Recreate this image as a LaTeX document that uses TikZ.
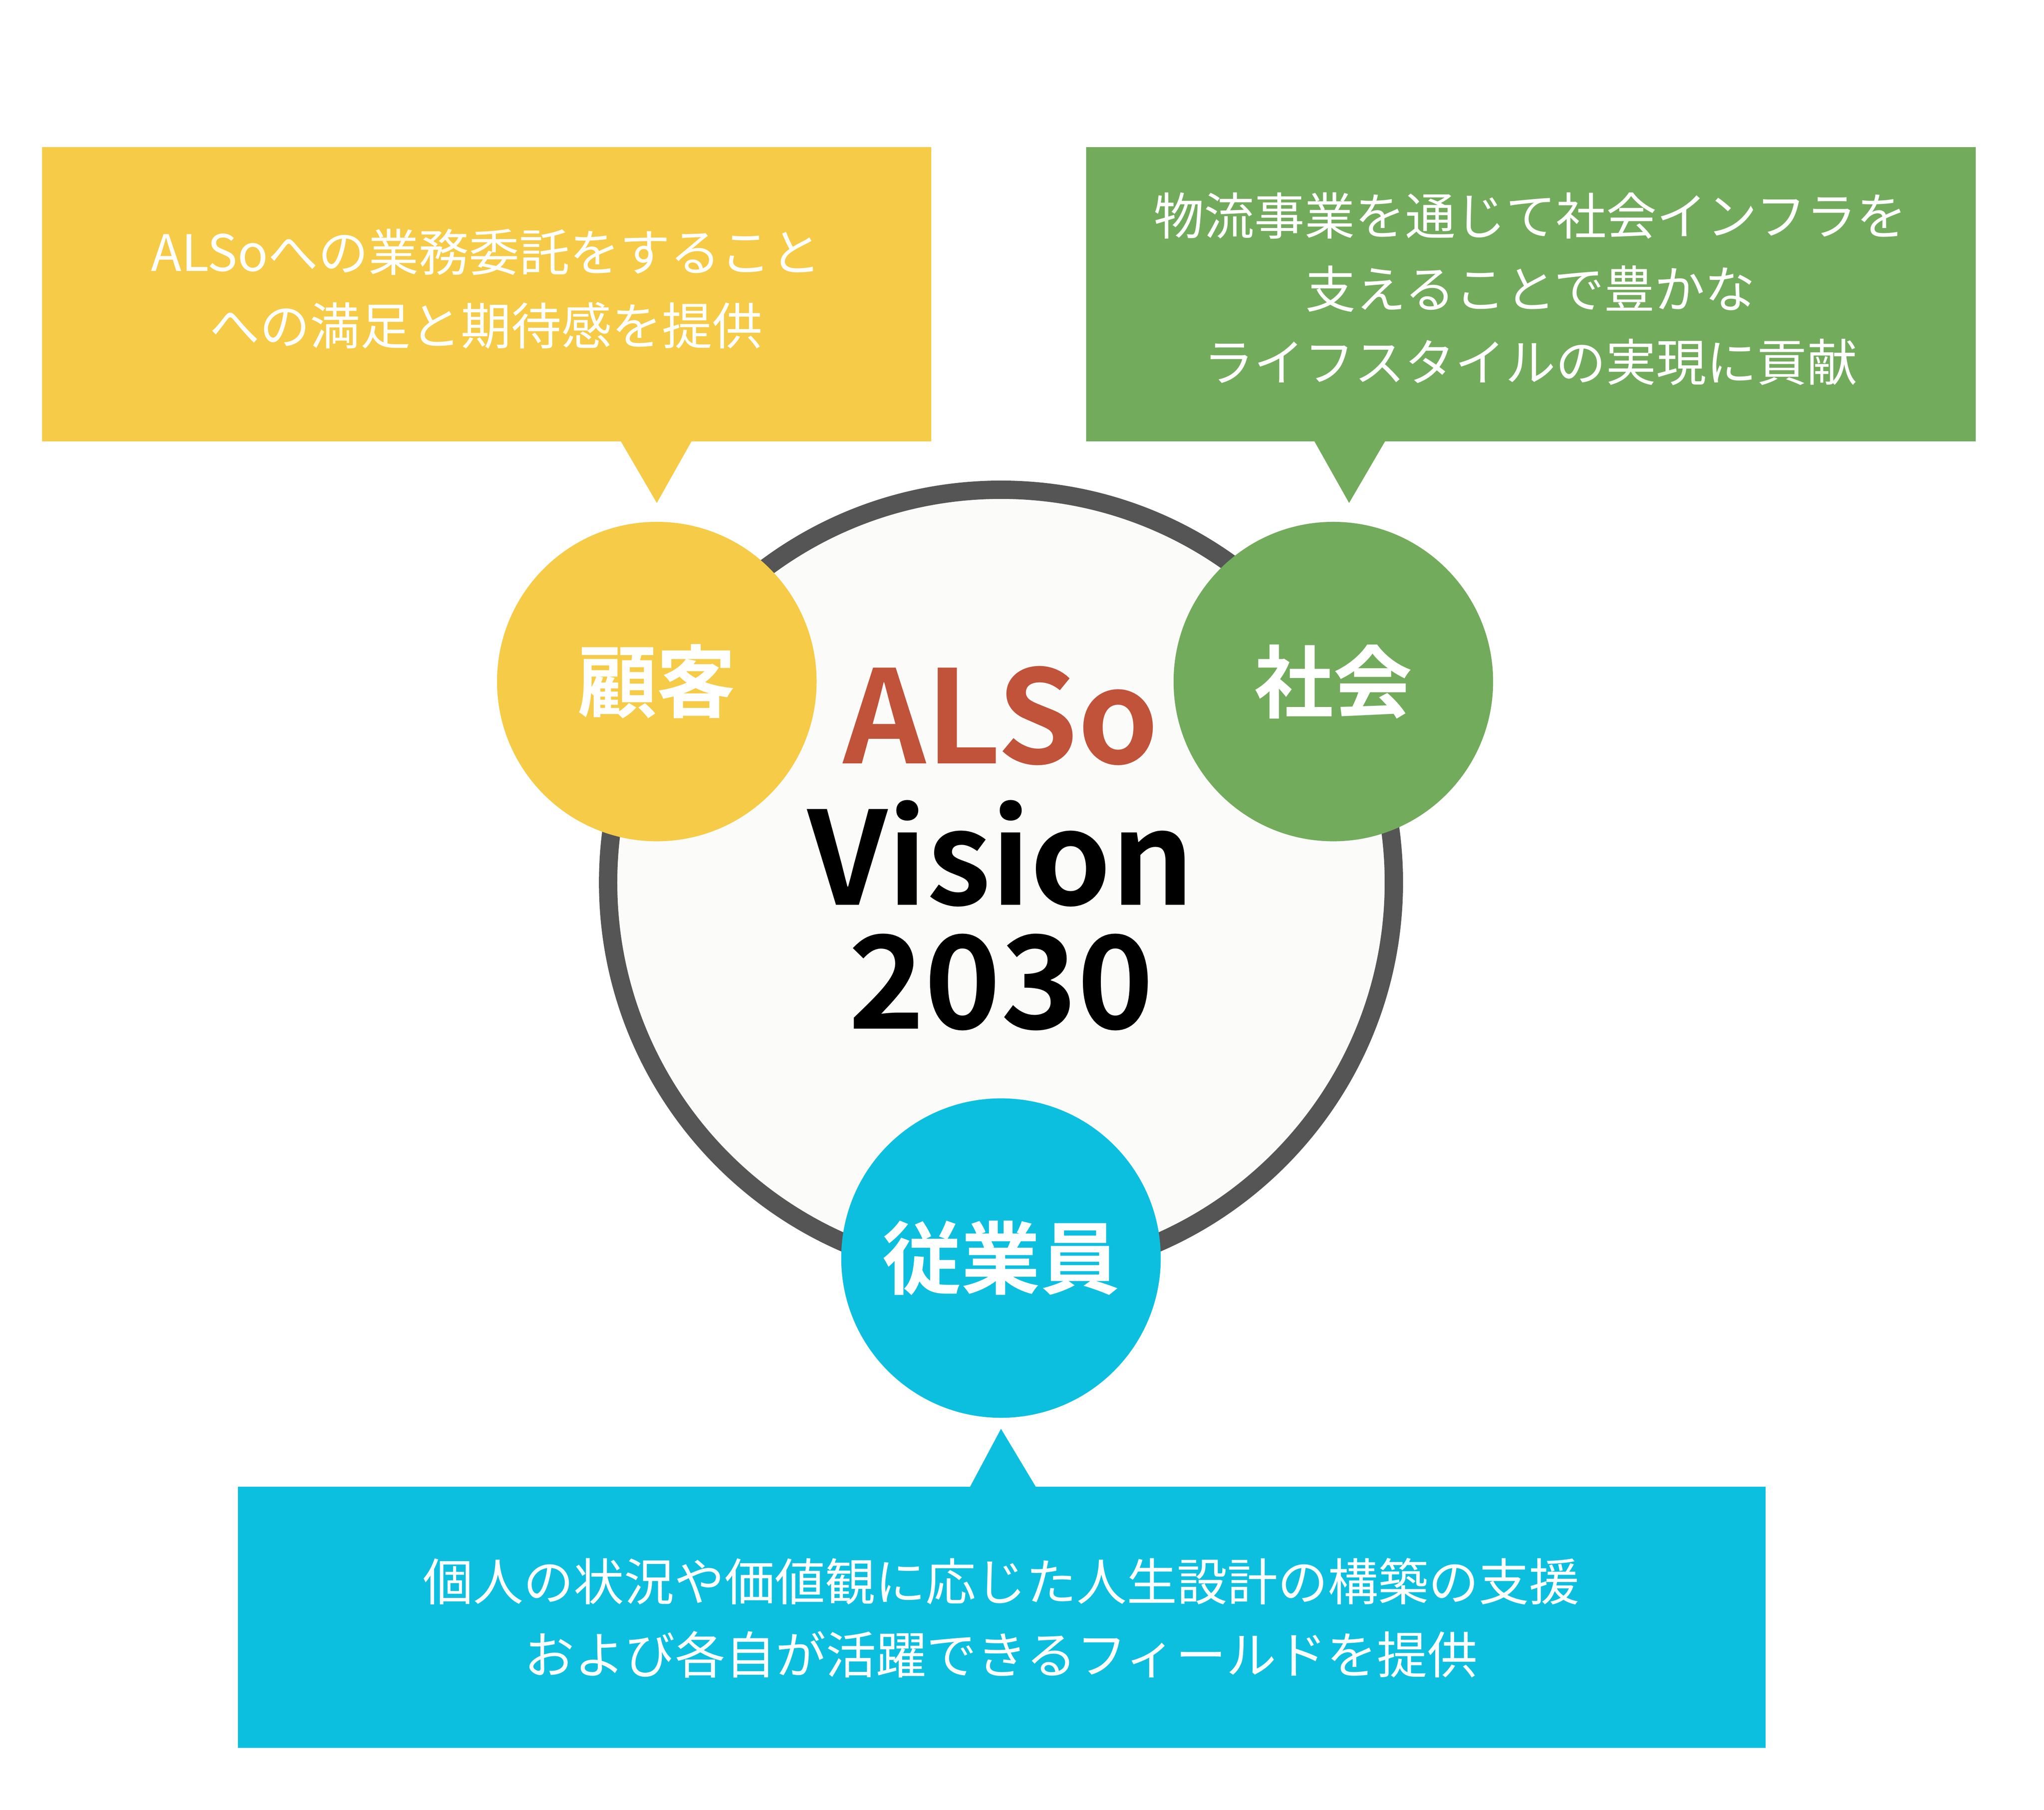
\documentclass[tikz,border=0pt]{standalone}
\usepackage{fontspec}
\setmainfont{Noto Sans CJK JP}
\newfontfamily\cjkb{Noto Sans CJK JP Bold}
\definecolor{cy}{HTML}{F6CB47}
\definecolor{cg}{HTML}{73AB5C}
\definecolor{cc}{HTML}{0DBFDF}
\definecolor{cr}{HTML}{C0533A}
\definecolor{cgr}{HTML}{555555}
\begin{document}
\begin{tikzpicture}[x=0.032134cm,y=-0.032134cm,
  boxtxt/.style={text=white,align=center,font=\fontsize{35}{51}\selectfont},
  lab/.style={text=white,font=\cjkb\fontsize{55}{60}\selectfont},
  big/.style={font=\cjkb\fontsize{90}{95}\selectfont}]
\useasboundingbox (0,0) rectangle (1556,1378);
\fill[white] (0,0) rectangle (1556,1378);
% boxes
\fill[cy] (32,112) rectangle (709,336);
\fill[cy] (472,335) -- (527,335) -- (500,383) -- cycle;
\fill[cg] (827,112) rectangle (1504,336);
\fill[cg] (1000,335) -- (1055,335) -- (1027,383) -- cycle;
\fill[cc] (181,1132) rectangle (1344,1331);
\fill[cc] (738,1133) -- (789,1133) -- (762,1088) -- cycle;
\node[boxtxt] (ty) at (370,220) {ALSoへの業務委託をすること\\への満足と期待感を提供};
\node[boxtxt] (tg) at (1165,220) {物流事業を通じて社会インフラを\\支えることで豊かな\\ライフスタイルの実現に貢献};
\node[boxtxt] (tc) at (762,1232) {個人の状況や価値観に応じた人生設計の構築の支援\\および各自が活躍できるフィールドを提供};
% big circle
\node[circle,draw=cgr,line width=14*0.9115pt,fill={rgb,255:red,251;green,251;blue,249},minimum size=600*0.9115pt] (main) at (762,672) {};
\node[circle,fill=cy,minimum size=244*0.9115pt] (ky) at (500,519) {};
\node[lab] at (ky) {顧客};
\node[circle,fill=cg,minimum size=244*0.9115pt] (kg) at (1015,519) {};
\node[lab] at (kg) {社会};
\node[circle,fill=cc,minimum size=244*0.9115pt] (kc) at (762,958) {};
\node[lab] at (kc) {従業員};
\node[big,text=cr] (a) at (762,545) {ALSo};
\node[big] (v) at (762,650) {Vision};
\node[big] (n) at (762,748) {2030};
\end{tikzpicture}
\end{document}
